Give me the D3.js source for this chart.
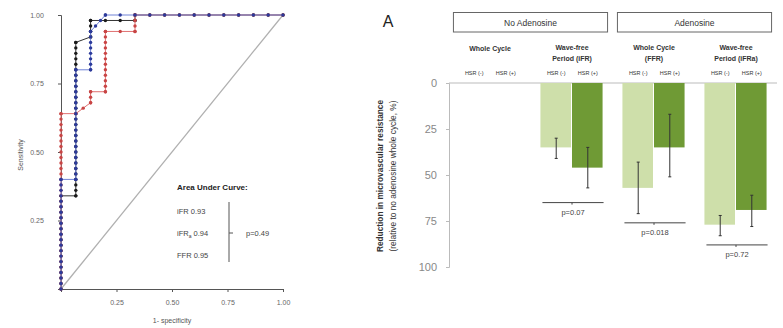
<!DOCTYPE html>
<html lang="en">
<head>
<meta charset="UTF-8">
<script src="https://d3js.org/d3.v7.min.js"></script>
<style>
  body { margin: 0; background: #fff; }
  svg { font-family: "Liberation Sans", Arial, sans-serif; }
</style>
</head>
<body>
<div id="here"></div>
<script>
// ROC curves, vertices in counts [false positives, true positives]
const nNeg = 15, nPos = 50;
const rocIFR  = [[0,0],[0,32],[1,32],[2,34],[2,36],[3,36],[3,47],[5,47],[5,50],[15,50]];
const rocIFRa = [[0,0],[0,20],[1,20],[1,40],[2,40],[2,47],[3,50],[15,50]];
const rocFFR  = [[0,0],[0,17],[1,17],[1,45],[2,46],[2,49],[5,49],[5,50],[15,50]];
const rocTicks = [0.25, 0.5, 0.75, 1.0];
const aucNames = ["iFR", "iFRa", "FFR"];
const aucValues = ["0.93", "0.94", "0.95"];
const aucP = "p=0.49";

// bar chart
const groups = ["Whole Cycle", "Wave-free Period (iFR)", "Whole Cycle (FFR)", "Wave-free Period (iFRa)"];
const groupLines = [["Whole Cycle"], ["Wave-free", "Period (iFR)"], ["Whole Cycle", "(FFR)"], ["Wave-free", "Period (iFRa)"]];
const conditions = ["No Adenosine", "Adenosine"];
const hsrNeg = [0, 35, 57, 77];
const hsrPos = [0, 46, 35, 69];
const hsrNegErr = [null, [30, 41], [43, 71], [72, 83]];
const hsrPosErr = [null, [35, 57], [17, 51], [61, 78]];
const pLabels = [null, "p=0.07", "p=0.018", "p=0.72"];
const pLineAt = [null, 65, 76, 88];
const barTicks = [0, 25, 50, 75, 100];

const svg = d3.select("#here").append("svg").attr("width", 783).attr("height", 328);

// ---------- left: ROC ----------
const x = d3.scaleLinear().domain([0, 1]).range([61, 283]);
const y = d3.scaleLinear().domain([0, 1]).range([289, 15]);

svg.append("line").attr("x1", x(0)).attr("y1", y(0)).attr("x2", x(1)).attr("y2", y(1))
  .attr("stroke", "#b0b0b0").attr("stroke-width", 1.3);

const xAx = svg.append("g").attr("transform", "translate(0," + y(0) + ")")
  .call(d3.axisBottom(x).tickValues(rocTicks).tickFormat(d3.format(".2f")).tickSize(3));
const yAx = svg.append("g").attr("transform", "translate(" + x(0) + ",0)")
  .call(d3.axisLeft(y).tickValues(rocTicks).tickFormat(d3.format(".2f")).tickSize(3));
[xAx, yAx].forEach(a => {
  a.select(".domain").attr("stroke", "#555");
  a.selectAll(".tick line").attr("stroke", "#555");
  a.selectAll("text").attr("font-size", 7).attr("fill", "#666");
});
xAx.selectAll("text").attr("dy", "1.4em");
yAx.selectAll("text").attr("dx", "-1.6em");

svg.append("text").attr("transform", "translate(23,155) rotate(-90)").attr("text-anchor", "middle")
  .attr("font-size", 7).attr("fill", "#555").text("Sensitivity");
svg.append("text").attr("x", 172).attr("y", 323).attr("text-anchor", "middle")
  .attr("font-size", 7).attr("fill", "#555").text("1- specificity");

// black first so the coloured curves stay visible on top
const curves = [
  { data: rocFFR, line: "#333", dot: "#1a1a1a" },
  { data: rocIFR, line: "#e07070", dot: "#c84545" },
  { data: rocIFRa, line: "#7083d6", dot: "#2c3a9a" }
];
const line = d3.line().x(d => x(d[0] / nNeg)).y(d => y(d[1] / nPos));
curves.forEach(c => {
  svg.append("path").attr("d", line(c.data)).attr("fill", "none")
    .attr("stroke", c.line).attr("stroke-width", 1);
  // one marker per case step along the curve
  const pts = [];
  for (let i = 1; i < c.data.length; i++) {
    const a = c.data[i - 1], b = c.data[i];
    const n = Math.max(Math.abs(b[0] - a[0]), Math.abs(b[1] - a[1]));
    for (let k = 0; k <= n; k++) pts.push([a[0] + (b[0] - a[0]) * k / n, a[1] + (b[1] - a[1]) * k / n]);
  }
  svg.append("g").selectAll("circle").data(pts).enter().append("circle")
    .attr("cx", d => x(d[0] / nNeg)).attr("cy", d => y(d[1] / nPos))
    .attr("r", 1.7).attr("fill", c.dot);
});

svg.append("text").attr("x", 177).attr("y", 190).attr("font-size", 8).attr("font-weight", "bold")
  .attr("fill", "#222").text("Area Under Curve:");
const aucY = [214, 236, 258];
aucNames.forEach((n, i) => {
  const t = svg.append("text").attr("x", 177).attr("y", aucY[i]).attr("font-size", 7.5).attr("fill", "#444");
  if (n === "iFRa") { t.append("tspan").text("iFR"); t.append("tspan").attr("font-size", 5).attr("dy", 2).text("a"); t.append("tspan").attr("dy", -2).text(" " + aucValues[i]); }
  else t.text(n + "  " + aucValues[i]);
});
svg.append("line").attr("x1", 229).attr("x2", 229).attr("y1", 202).attr("y2", 262).attr("stroke", "#555");
svg.append("line").attr("x1", 229).attr("x2", 233).attr("y1", 233).attr("y2", 233).attr("stroke", "#555");
svg.append("text").attr("x", 246).attr("y", 236).attr("font-size", 7.5).attr("fill", "#444").text(aucP);

// ---------- right: bars ----------
const bx = d3.scaleBand().domain(groups).range([449, 777]).paddingInner(0.23).paddingOuter(0.115);
const by = d3.scaleLinear().domain([0, 100]).range([83, 267]);
const bw = bx.bandwidth() / 2;

svg.append("text").attr("x", 388).attr("y", 27).attr("text-anchor", "middle")
  .attr("font-size", 16).attr("fill", "#222").text("A");

const yb = svg.append("g").attr("transform", "translate(449,0)")
  .call(d3.axisLeft(by).tickValues(barTicks).tickSize(3).tickPadding(9));
yb.select(".domain").attr("stroke", "#bbb");
yb.selectAll(".tick line").attr("stroke", "#bbb");
yb.selectAll("text").attr("font-size", 11).attr("fill", "#888");

svg.append("line").attr("x1", 449).attr("x2", 777).attr("y1", by(0)).attr("y2", by(0)).attr("stroke", "#bbb");

const yt = svg.append("text").attr("transform", "translate(383,176) rotate(-90)").attr("text-anchor", "middle")
  .attr("font-size", 8.3).attr("fill", "#333");
yt.append("tspan").attr("x", 0).attr("font-weight", "bold").text("Reduction in microvascular resistance");
yt.append("tspan").attr("x", 0).attr("dy", 13).text("(relative to no adenosine whole cycle, %)");

// condition boxes
conditions.forEach((c, i) => {
  const g0 = groups[i * 2], g1 = groups[i * 2 + 1];
  const x0 = bx(g0) - 5, x1 = bx(g1) + bx.bandwidth() + 4;
  svg.append("rect").attr("x", x0).attr("y", 12.5).attr("width", x1 - x0).attr("height", 19.5)
    .attr("fill", "#fff").attr("stroke", "#666").attr("stroke-width", 1);
  svg.append("text").attr("x", (x0 + x1) / 2).attr("y", 25.5).attr("text-anchor", "middle")
    .attr("font-size", 8.5).attr("fill", "#333").text(c);
});

groups.forEach((g, i) => {
  const cx = bx(g) + bx.bandwidth() / 2;
  const lines = groupLines[i];
  lines.forEach((l, k) => {
    svg.append("text").attr("x", cx).attr("y", (lines.length === 1 ? 51 : 50) + k * 11)
      .attr("text-anchor", "middle").attr("font-size", 7).attr("font-weight", "bold").attr("fill", "#333").text(l);
  });
  svg.append("text").attr("x", bx(g) + bw / 2).attr("y", 75).attr("text-anchor", "middle")
    .attr("font-size", 5.5).attr("fill", "#333").text("HSR (-)");
  svg.append("text").attr("x", bx(g) + bw * 1.5).attr("y", 75).attr("text-anchor", "middle")
    .attr("font-size", 5.5).attr("fill", "#333").text("HSR (+)");
});

const series = [
  { vals: hsrNeg, err: hsrNegErr, color: "#cedfaa", off: 0 },
  { vals: hsrPos, err: hsrPosErr, color: "#6f9a35", off: 1 }
];
series.forEach(s => {
  groups.forEach((g, i) => {
    if (!s.vals[i]) return;
    const x0 = bx(g) + s.off * bw;
    svg.append("rect").attr("x", x0).attr("y", by(0)).attr("width", bw - 1)
      .attr("height", by(s.vals[i]) - by(0)).attr("fill", s.color);
    const e = s.err[i], ex = x0 + bw / 2;
    svg.append("line").attr("x1", ex).attr("x2", ex).attr("y1", by(e[0])).attr("y2", by(e[1]))
      .attr("stroke", "#333").attr("stroke-width", 1);
    [e[0], e[1]].forEach(v => svg.append("line").attr("x1", ex - 1.5).attr("x2", ex + 1.5)
      .attr("y1", by(v)).attr("y2", by(v)).attr("stroke", "#333"));
  });
});

groups.forEach((g, i) => {
  if (!pLabels[i]) return;
  const x0 = bx(g), x1 = bx(g) + bx.bandwidth(), yy = by(pLineAt[i]);
  svg.append("line").attr("x1", x0 + 2).attr("x2", x1).attr("y1", yy).attr("y2", yy).attr("stroke", "#444");
  svg.append("line").attr("x1", (x0 + x1) / 2).attr("x2", (x0 + x1) / 2).attr("y1", yy).attr("y2", yy + 2).attr("stroke", "#444");
  svg.append("text").attr("x", (x0 + x1) / 2 + 1).attr("y", yy + 12).attr("text-anchor", "middle")
    .attr("font-size", 7.5).attr("fill", "#444").text(pLabels[i]);
});
</script>
</body>
</html>
